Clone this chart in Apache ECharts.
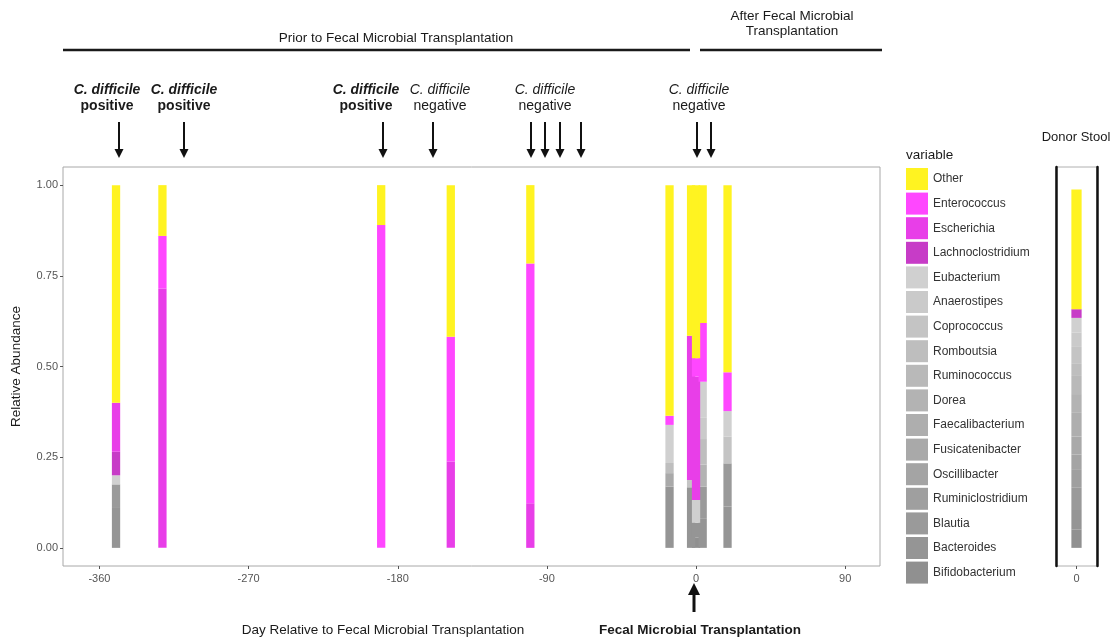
<!DOCTYPE html>
<html>
<head>
<meta charset="utf-8">
<title>Relative abundance around FMT</title>
<script src="https://cdn.jsdelivr.net/npm/echarts@6/dist/echarts.min.js"></script>
<style>
  html, body { margin: 0; padding: 0; background: #fff; }
  #main { width: 1114px; height: 640px; }
</style>
</head>
<body>
<div id="main"></div>
<script>
// taxa in legend order (top of each stack first)
let taxa = ["Other", "Enterococcus", "Escherichia", "Lachnoclostridium", "Eubacterium",
    "Anaerostipes", "Coprococcus", "Romboutsia", "Ruminococcus", "Dorea", "Faecalibacterium",
    "Fusicatenibacter", "Oscillibacter", "Ruminiclostridium", "Blautia", "Bacteroides", "Bifidobacterium"];
let colors = ["#fff321", "#ff47ff", "#e83ee8", "#c73cc7", "#d0d0d0",
    "#cacaca", "#c4c4c4", "#bebebe", "#b9b9b9", "#b3b3b3", "#aeaeae",
    "#a9a9a9", "#a4a4a4", "#9f9f9f", "#9a9a9a", "#959595", "#909090"];

// sampling days relative to FMT
let days = [-350, -322, -190, -148, -100, -16, -3, 0, 4, 19];

// relative abundance per taxon, one value per sample day
let other             = [0.600, 0.140, 0.110, 0.418, 0.216, 0.636, 0.415, 0.477, 0.380, 0.516];
let enterococcus      = [0,     0.145, 0.890, 0.344, 0.661, 0.025, 0,     0.051, 0.162, 0.107];
let escherichia       = [0.135, 0.715, 0,     0.238, 0.123, 0,     0.398, 0.340, 0,     0];
let lachnoclostridium = [0.065, 0,     0,     0,     0,     0,     0,     0,     0,     0];
let eubacterium       = [0.025, 0,     0,     0,     0,     0.105, 0,     0.063, 0.098, 0.070];
let anaerostipes      = [0,     0,     0,     0,     0,     0,     0,     0,     0.060, 0];
let coprococcus       = [0,     0,     0,     0,     0,     0,     0.020, 0,     0,     0.074];
let romboutsia        = [0,     0,     0,     0,     0,     0.028, 0,     0,     0.070, 0];
let ruminococcus      = [0,     0,     0,     0,     0,     0,     0,     0,     0,     0];
let dorea             = [0,     0,     0,     0,     0,     0,     0,     0,     0.061, 0];
let faecalibacterium  = [0,     0,     0,     0,     0,     0,     0,     0,     0,     0];
let fusicatenibacter  = [0,     0,     0,     0,     0,     0.037, 0,     0,     0,     0];
let oscillibacter     = [0,     0,     0,     0,     0,     0,     0,     0,     0,     0];
let ruminiclostridium = [0,     0,     0,     0,     0,     0,     0,     0,     0,     0];
let blautia           = [0.065, 0,     0,     0,     0,     0,     0,     0,     0.089, 0.119];
let bacteroides       = [0.110, 0,     0,     0,     0,     0.169, 0.167, 0.040, 0.080, 0.114];
let bifidobacterium   = [0,     0,     0,     0,     0,     0,     0,     0.029, 0,     0];

// donor stool, same taxon order
let donor = [0.330, 0, 0, 0.024, 0.040, 0.040, 0.045, 0.035, 0.050, 0.050, 0.067,
    0.050, 0.040, 0.050, 0.060, 0.057, 0.050];

let xTicks = [-360, -270, -180, -90, 0, 90];
let yTicks = [0, 0.25, 0.5, 0.75, 1];

let values = [other, enterococcus, escherichia, lachnoclostridium, eubacterium, anaerostipes,
    coprococcus, romboutsia, ruminococcus, dorea, faecalibacterium, fusicatenibacter,
    oscillibacter, ruminiclostridium, blautia, bacteroides, bifidobacterium];

const BAR_DAYS = 5.0;
const FONT = "Liberation Sans, Arial, sans-serif";

// stack from the bottom (last taxon) upward
let tops = days.map(() => 0);
let series = [];
for (let k = taxa.length - 1; k >= 0; k--) {
    let rows = days.map((d, i) => {
        let y0 = tops[i];
        tops[i] = y0 + values[k][i];
        return [d, y0, tops[i]];
    });
    series.push({
        name: taxa[k],
        type: "custom",
        xAxisIndex: 0,
        yAxisIndex: 0,
        itemStyle: { color: colors[k] },
        encode: { x: 0, y: [1, 2] },
        renderItem: function (params, api) {
            let lo = api.coord([api.value(0), api.value(1)]);
            let hi = api.coord([api.value(0), api.value(2)]);
            let w = api.size([BAR_DAYS, 0])[0];
            return {
                type: "rect",
                shape: { x: lo[0] - w / 2, y: hi[1], width: w, height: lo[1] - hi[1] },
                style: { fill: api.visual("color") },
            };
        },
        data: rows,
    });
}

let donorRows = [];
let acc = 0;
for (let k = taxa.length - 1; k >= 0; k--) {
    donorRows.push([0, acc, acc + donor[k], k]);
    acc += donor[k];
}
series.push({
    name: "Donor Stool",
    type: "custom",
    xAxisIndex: 1,
    yAxisIndex: 1,
    encode: { x: 0, y: [1, 2] },
    renderItem: function (params, api) {
        let lo = api.coord([api.value(0), api.value(1)]);
        let hi = api.coord([api.value(0), api.value(2)]);
        let w = api.size([1, 0])[0] * 0.25;
        return {
            type: "rect",
            shape: { x: lo[0] - w / 2, y: hi[1], width: w, height: lo[1] - hi[1] },
            style: { fill: colors[api.value(3)] },
        };
    },
    data: donorRows,
});

// annotation helpers
function text(x, y, str, size, weight, style, align) {
    return {
        type: "text", x: x, y: y,
        style: {
            text: str, fill: "#1a1a1a", font: (style || "normal") + " " + (weight || "normal") + " " + size + "px " + FONT,
            textAlign: align || "center", textVerticalAlign: "middle",
        },
    };
}
function hline(x1, x2, y) {
    return { type: "line", shape: { x1: x1, y1: y, x2: x2, y2: y }, style: { stroke: "#1a1a1a", lineWidth: 2.5 } };
}
function arrowDown(x, y1, y2) {
    return [
        { type: "line", shape: { x1: x, y1: y1, x2: x, y2: y2 - 6 }, style: { stroke: "#111", lineWidth: 2 } },
        { type: "polygon", shape: { points: [[x - 4.5, y2 - 9], [x + 4.5, y2 - 9], [x, y2]] }, style: { fill: "#111" } },
    ];
}

let arrowX = [119, 184, 383, 433, 531, 545, 560, 581, 697, 711];
let labels = [
    { x: 107, bold: true, word: "positive" },
    { x: 184, bold: true, word: "positive" },
    { x: 366, bold: true, word: "positive" },
    { x: 440, bold: false, word: "negative" },
    { x: 545, bold: false, word: "negative" },
    { x: 699, bold: false, word: "negative" },
];

let graphics = [
    text(396, 38, "Prior to Fecal Microbial Transplantation", 13.5),
    hline(63, 690, 50),
    text(792, 16, "After Fecal Microbial", 13.5),
    text(792, 31, "Transplantation", 13.5),
    hline(700, 882, 50),
    text(383, 630, "Day Relative to Fecal Microbial Transplantation", 13.5),
    text(700, 630, "Fecal Microbial Transplantation", 13.5, "bold"),
    text(906, 155, "variable", 13.5, "normal", "normal", "left"),
    text(1076, 137, "Donor Stool", 13),
    { type: "line", shape: { x1: 694, y1: 612, x2: 694, y2: 594 }, style: { stroke: "#111", lineWidth: 3 } },
    { type: "polygon", shape: { points: [[688, 595], [700, 595], [694, 583]] }, style: { fill: "#111" } },
];
labels.forEach(l => {
    graphics.push(text(l.x, 90, "C. difficile", 14, l.bold ? "bold" : "normal", "italic"));
    graphics.push(text(l.x, 106, l.word, 14, l.bold ? "bold" : "normal"));
});
arrowX.forEach(x => { graphics = graphics.concat(arrowDown(x, 122, 158)); });

let dom = document.getElementById("main");
let myChart = echarts.init(dom, null, { renderer: "canvas" });
let option = {
    animation: false,
    backgroundColor: "#ffffff",
    textStyle: { fontFamily: FONT },
    grid: [
        { left: 63, top: 167, width: 817, height: 399, show: true, borderColor: "#a8a8a8", borderWidth: 1, backgroundColor: "transparent" },
        { left: 1056, top: 167, width: 41, height: 399, show: true, borderColor: "#b0b0b0", borderWidth: 1, backgroundColor: "transparent" },
    ],
    xAxis: [
        {
            type: "value", gridIndex: 0, min: -382, max: 111,
            axisLine: { show: false, onZero: false },
            splitLine: { show: false },
            axisTick: { show: true, customValues: xTicks, length: 3, lineStyle: { color: "#555" } },
            axisLabel: { customValues: xTicks, color: "#555", fontSize: 11, margin: 7 },
        },
        {
            type: "category", gridIndex: 1, data: ["0"],
            axisLine: { show: false, onZero: false },
            axisTick: { show: true, alignWithLabel: true, length: 3, lineStyle: { color: "#555" } },
            axisLabel: { color: "#555", fontSize: 11, margin: 7 },
        },
    ],
    yAxis: [
        {
            type: "value", gridIndex: 0, min: -0.05, max: 1.05,
            name: "Relative Abundance", nameLocation: "middle", nameGap: 40,
            nameTextStyle: { color: "#1a1a1a", fontSize: 13.5 },
            axisLine: { show: false, onZero: false },
            splitLine: { show: false },
            axisTick: { show: true, customValues: yTicks, length: 3, lineStyle: { color: "#555" } },
            axisLabel: { customValues: yTicks, color: "#555", fontSize: 11, margin: 5, formatter: v => v.toFixed(2) },
        },
        {
            type: "value", gridIndex: 1, min: -0.05, max: 1.05,
            axisLine: { show: true, onZero: false, lineStyle: { color: "#111", width: 2.5 } },
            axisTick: { show: false }, axisLabel: { show: false }, splitLine: { show: false },
        },
        {
            type: "value", gridIndex: 1, min: -0.05, max: 1.05, position: "right",
            axisLine: { show: true, onZero: false, lineStyle: { color: "#111", width: 2.5 } },
            axisTick: { show: false }, axisLabel: { show: false }, splitLine: { show: false },
        },
    ],
    legend: {
        data: taxa,
        orient: "vertical",
        left: 906,
        top: 168,
        padding: 0,
        icon: "rect",
        itemWidth: 22,
        itemHeight: 22,
        itemGap: 2.6,
        selectedMode: false,
        textStyle: { fontSize: 12, color: "#333" },
    },
    graphic: graphics,
    series: series,
};

if (option && typeof option === "object") {
    myChart.setOption(option);
}

window.addEventListener("resize", myChart.resize);
</script>
</body>
</html>
